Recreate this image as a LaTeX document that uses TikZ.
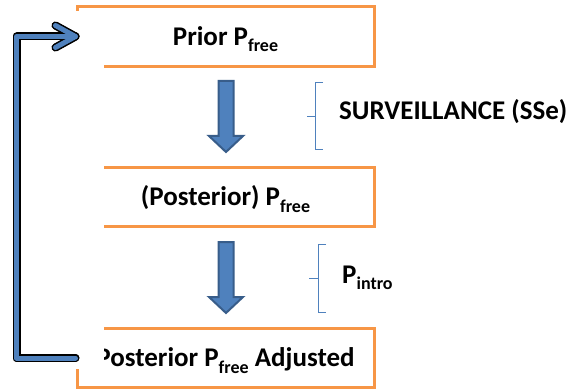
\documentclass[tikz,border=0pt]{standalone}
\usepackage{fontspec}
\setmainfont{Carlito}
\usetikzlibrary{calc}
\definecolor{orng}{HTML}{F79646}
\definecolor{blu}{HTML}{4F81BD}
\definecolor{bluedark}{HTML}{385D8A}
\newcommand\lowtxt[1]{\raisebox{-6.5pt}{\fontsize{18}{18}\selectfont #1}}
\begin{document}
\begin{tikzpicture}[x=1pt,y=-1pt,
  box/.style={draw=orng, line width=3pt, minimum width=297pt, minimum height=59.5pt, inner sep=0pt, text height=17.4pt, text depth=0pt, font=\fontsize{27}{30}\selectfont\bfseries},
  lbl/.style={font=\fontsize{27}{30}\selectfont\bfseries, inner sep=0pt},
  blockarrow/.style={fill=blu, draw=bluedark, line width=2pt, line join=miter},
  bracel/.style={draw=blu, line width=1pt},
  shadowline/.style={black, line width=8pt, line cap=round, line join=round},
  outline/.style={black, line width=7.5pt, line cap=round, line join=round},
  blueline/.style={blu, line width=5pt, line cap=round, line join=round}]
\useasboundingbox (0,0) rectangle (569,390);
% boxes
\node[box] (top) at (225.5,36.5) {Prior P\lowtxt{free}};
\node[box] (mid) at (225.5,197) {(Posterior) P\lowtxt{free}};
\node[box] (bot) at (225.5,358) {Posterior P\lowtxt{free} Adjusted};
% white cover
\fill[white] (0,11) rectangle (104,368.5);
% block arrows
\draw[blockarrow] (218.5,81) -- (233.5,81) -- (233.5,136) -- (243,136) -- (226,152) -- (209,136) -- (218.5,136) -- cycle;
\draw[blockarrow] (218.5,242) -- (233.5,242) -- (233.5,297) -- (243,297) -- (226,313) -- (209,297) -- (218.5,297) -- cycle;
% braces
\draw[bracel] (323,83) -- (315,83) -- (315,117) -- (307,117) (315,117) -- (315,149) -- (323,149);
\draw[bracel] (326,244) -- (318,244) -- (318,278) -- (309,278) (318,278) -- (318,312) -- (326,312);
% labels
\node[lbl, anchor=base west] (surv) at (339,120) {SURVEILLANCE (SSe)};
\node[lbl, anchor=base west] (intro) at (342,283) {P\lowtxt{intro}};
% loop connector
\draw[shadowline, shift={(-4,4)}] (bot.west) -- ++(-59,0) |- (top.west);
\draw[shadowline, shift={(-4,4)}] ($(top.west)+(-20,-11)$) -- (top.west) -- ($(top.west)+(-20,11)$);
\draw[outline] (bot.west) -- ++(-59,0) |- (top.west);
\draw[outline] ($(top.west)+(-20,-11)$) -- (top.west) -- ($(top.west)+(-20,11)$);
\draw[blueline] (bot.west) -- ++(-59,0) |- (top.west);
\draw[blueline] ($(top.west)+(-20,-11)$) -- (top.west) -- ($(top.west)+(-20,11)$);
\end{tikzpicture}
\end{document}
